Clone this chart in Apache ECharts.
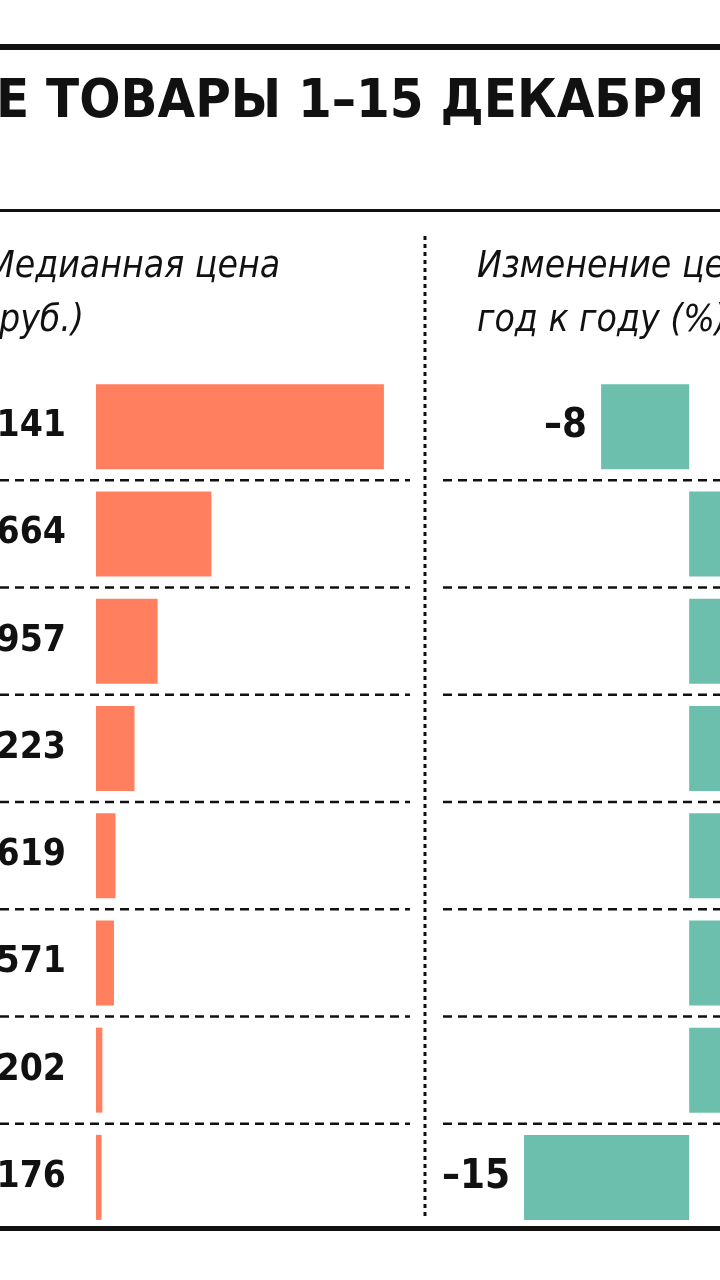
<!DOCTYPE html>
<html>
<head>
<meta charset="utf-8">
<script src="https://cdn.jsdelivr.net/npm/echarts@6/dist/echarts.min.js"></script>
<style>
html, body { margin: 0; padding: 0; background: #fff; }
#main { width: 720px; height: 1280px; }
</style>
</head>
<body>
<div id="main"></div>
<script>
// data (crop of a wider chart)
var goods = ['1', '2', '3', '4', '5', '6', '7', '8'];
var medianPrice = [9141, 3664, 1957, 1223, 619, 571, 202, 176];
var priceLabels = ['9141', '3664', '1957', '1223', '619', '571', '202', '176'];
var yoyChange = [-8, 5, 7, 6, 4, 9, 3, -15];

var FONT = '"Liberation Sans Narrow", "DejaVu Sans Condensed", sans-serif';
var top0 = 373, rowsH = 858;

var myChart = echarts.init(document.getElementById('main'));

// dashed row separators between the rows
var seps = [];
for (var i = 1; i < goods.length; i++) {
    var y = top0 + rowsH * i / goods.length;
    seps.push({ type: 'line', shape: { x1: 0, y1: y, x2: 410, y2: y }, style: { stroke: '#111', lineWidth: 2.5, lineDash: [9, 6] } });
    seps.push({ type: 'line', shape: { x1: 443, y1: y, x2: 720, y2: y }, style: { stroke: '#111', lineWidth: 2.5, lineDash: [9, 6] } });
}

option = {
    animation: false,
    backgroundColor: '#fff',
    graphic: [
        { type: 'rect', shape: { x: 0, y: 44, width: 720, height: 6 }, style: { fill: '#111' } },
        { type: 'text', left: -4, top: 76, style: { text: 'Е ТОВАРЫ 1–15 ДЕКАБРЯ', font: 'bold 54px ' + FONT, fill: '#111' } },
        { type: 'rect', shape: { x: 0, y: 209, width: 720, height: 3 }, style: { fill: '#111' } },
        { type: 'text', left: -14, top: 240, style: { text: 'Медианная цена\n(руб.)', font: 'italic 37px ' + FONT, fill: '#111', lineHeight: 54 } },
        { type: 'text', left: 477, top: 240, style: { text: 'Изменение цены\nгод к году (%)', font: 'italic 37px ' + FONT, fill: '#111', lineHeight: 54 } },
        { type: 'line', shape: { x1: 425, y1: 236, x2: 425, y2: 1218 }, style: { stroke: '#111', lineWidth: 3, lineDash: [4, 4] } },
        { type: 'rect', shape: { x: 0, y: 1226, width: 720, height: 5 }, style: { fill: '#111' } }
    ].concat(seps),
    grid: [
        { left: 96, top: top0, width: 314, height: rowsH },
        { left: 469, top: top0, right: 0, height: rowsH }
    ],
    xAxis: [
        { gridIndex: 0, type: 'value', min: 0, max: 9970, show: false },
        { gridIndex: 1, type: 'value', min: -20, max: 2.8, show: false }
    ],
    yAxis: [
        { gridIndex: 0, type: 'category', data: goods, inverse: true, show: false },
        { gridIndex: 1, type: 'category', data: goods, inverse: true, show: false }
    ],
    series: [
        {
            type: 'bar', xAxisIndex: 0, yAxisIndex: 0, barWidth: 85,
            data: medianPrice,
            itemStyle: { color: '#ff7f5e' },
            label: {
                show: true, position: 'left', distance: 30,
                formatter: function (p) { return priceLabels[p.dataIndex]; },
                fontSize: 37, fontWeight: 'bold', fontFamily: FONT, color: '#111'
            }
        },
        {
            type: 'bar', xAxisIndex: 1, yAxisIndex: 1, barWidth: 85,
            data: yoyChange,
            itemStyle: { color: '#6dbfad' },
            label: {
                show: true, distance: 14, position: 'left',
                formatter: function (p) { return p.value < 0 ? '–' + Math.abs(p.value) : ''; },
                fontSize: 40, fontWeight: 'bold', fontFamily: FONT, color: '#111'
            }
        }
    ]
};

myChart.setOption(option);
</script>
</body>
</html>
